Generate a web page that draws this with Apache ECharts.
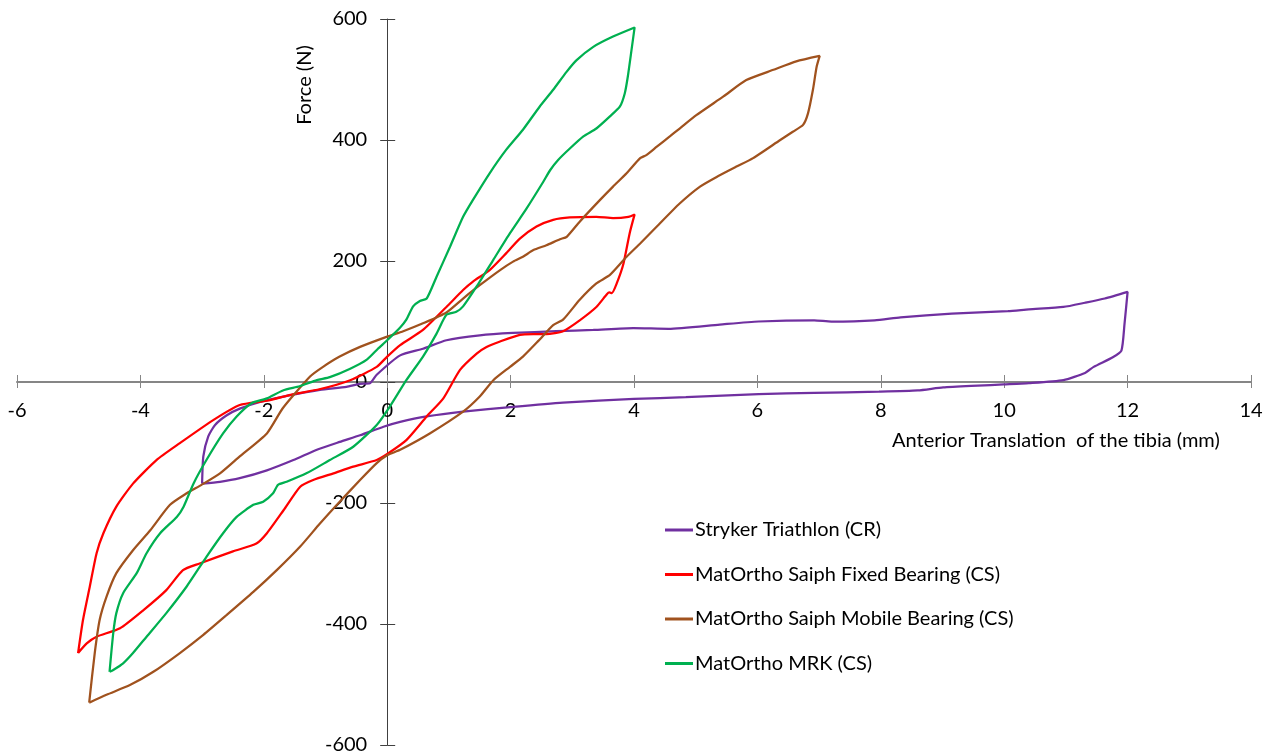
<!DOCTYPE html>
<html lang="en" style="height: 100%">
  <head>
    <meta charset="utf-8" />
  </head>
  <body style="margin: 0; height: 100%">
    <div id="container" style="width: 1274px; height: 756px"></div>
    <script type="text/javascript" src="https://cdn.jsdelivr.net/npm/echarts@6/dist/echarts.min.js"></script>
    <script type="text/javascript">
      // digitised loops, each in path order: min corner -> upper branch -> peak -> lower branch -> back
      var strykerCR = [
        [-3.0, -168], [-2.98, -123], [-2.9, -90], [-2.79, -71], [-2.6, -55], [-2.39, -44], [-2.06, -33],
        [-1.63, -23], [-1.09, -13], [-0.66, -8], [-0.45, -3], [-0.28, -2], [-0.17, 12], [0.21, 44],
        [0.58, 55], [0.96, 69], [1.5, 77], [2.04, 81], [2.74, 84], [3.34, 86], [3.99, 89], [4.56, 88],
        [5.39, 95], [6.02, 100], [6.92, 102], [7.2, 100], [7.9, 102], [8.32, 107], [9.15, 113],
        [10.06, 117], [10.4, 120], [10.96, 124], [11.31, 131], [11.63, 138], [12.0, 149],
        [11.95, 96], [11.9, 52], [11.76, 41], [11.45, 25], [11.31, 15], [10.96, 3], [10.4, -2],
        [9.99, -4], [9.57, -6], [9.01, -9], [8.6, -14], [7.97, -16], [6.92, -18], [6.02, -20],
        [4.84, -25], [4.0, -28], [2.85, -34], [2.04, -41], [1.23, -49], [0.64, -57], [0.21, -66],
        [-0.06, -74], [-0.44, -88], [-0.77, -99], [-1.14, -112], [-1.52, -129], [-1.95, -146],
        [-2.39, -159], [-2.71, -165], [-3.0, -168]
      ];

      var fixedBearing = [
        [-5.01, -448], [-4.93, -393], [-4.82, -338], [-4.71, -283], [-4.6, -250], [-4.39, -206],
        [-4.12, -168], [-3.74, -129], [-3.36, -101], [-2.82, -63], [-2.39, -38], [-1.95, -31],
        [-1.52, -20], [-1.1, -12], [-0.6, 3], [-0.17, 25], [0.0, 42], [0.21, 61], [0.58, 86],
        [0.96, 124], [1.23, 152], [1.39, 166], [1.66, 185], [1.93, 213], [2.15, 237], [2.42, 257],
        [2.69, 268], [2.96, 272], [3.39, 273], [3.66, 271], [3.91, 273], [4.01, 277],
        [3.93, 246], [3.83, 196], [3.72, 163], [3.64, 147], [3.6, 148], [3.56, 145], [3.39, 124],
        [3.12, 102], [2.85, 84], [2.58, 79], [2.37, 79], [2.15, 78], [1.83, 67], [1.61, 58],
        [1.45, 47], [1.18, 20], [0.91, -27], [0.64, -57], [0.31, -96], [0.0, -119], [-0.17, -129],
        [-0.55, -140], [-0.87, -151], [-1.2, -162], [-1.41, -173], [-1.68, -212], [-1.95, -250],
        [-2.12, -267], [-2.5, -280], [-3.04, -300], [-3.31, -311], [-3.58, -344], [-3.95, -377],
        [-4.33, -407], [-4.71, -421], [-4.87, -432], [-5.01, -448]
      ];

      var mobileBearing = [
        [-4.83, -530], [-4.74, -448], [-4.66, -393], [-4.55, -355], [-4.39, -316], [-4.12, -278],
        [-3.84, -245], [-3.52, -203], [-3.25, -184], [-3.01, -170], [-2.71, -151], [-2.39, -123],
        [-1.95, -85], [-1.69, -43], [-1.25, 9], [-1.04, 25], [-0.77, 42], [-0.44, 58], [0.0, 75],
        [0.26, 84], [0.58, 97], [0.96, 115], [1.23, 138], [1.5, 160], [1.83, 185], [2.04, 199],
        [2.2, 207], [2.37, 218], [2.58, 226], [2.8, 236], [2.91, 240], [3.12, 265], [3.45, 301],
        [3.66, 323], [3.88, 345], [4.1, 370], [4.2, 375], [4.37, 389], [4.58, 406], [4.74, 419],
        [5.01, 441], [5.45, 472], [5.82, 499], [6.26, 516], [6.63, 530], [7.01, 539],
        [6.96, 521], [6.9, 483], [6.82, 444], [6.74, 425], [6.58, 414], [6.37, 400], [5.93, 370],
        [5.66, 356], [5.34, 339], [5.07, 323], [4.74, 295], [4.37, 257], [4.1, 229], [3.88, 207],
        [3.61, 177], [3.39, 163], [3.12, 136], [2.85, 103], [2.69, 94], [2.45, 68], [2.2, 42],
        [1.99, 25], [1.72, 3], [1.5, -24], [1.23, -49], [0.69, -85], [0.21, -112], [0.0, -121],
        [-0.17, -134], [-0.44, -162], [-0.77, -198], [-1.09, -234], [-1.41, -272], [-1.79, -311],
        [-2.17, -347], [-2.6, -385], [-2.98, -418], [-3.36, -448], [-3.79, -479], [-4.17, -501],
        [-4.55, -517], [-4.83, -530]
      ];

      var mrk = [
        [-4.5, -479], [-4.44, -415], [-4.39, -382], [-4.28, -349], [-4.06, -316], [-3.9, -283],
        [-3.68, -250], [-3.41, -223], [-3.3, -206], [-3.14, -168], [-2.93, -129], [-2.66, -85],
        [-2.44, -57], [-2.2, -35], [-1.95, -27], [-1.69, -14], [-1.42, -7], [-1.14, 3], [-0.93, 8],
        [-0.6, 22], [-0.33, 37], [-0.15, 55], [0.0, 69], [0.21, 90], [0.31, 103], [0.42, 125],
        [0.53, 134], [0.64, 138], [0.8, 174], [1.02, 224], [1.23, 273], [1.39, 301], [1.66, 345],
        [1.93, 384], [2.2, 417], [2.47, 455], [2.69, 483], [2.91, 513], [3.07, 532], [3.34, 554],
        [3.66, 571], [4.01, 586],
        [3.96, 549], [3.9, 505], [3.85, 477], [3.77, 455], [3.61, 439], [3.39, 419], [3.18, 406],
        [2.96, 386], [2.77, 367], [2.64, 350], [2.53, 331], [2.26, 287], [1.99, 246], [1.72, 202],
        [1.45, 158], [1.23, 125], [1.12, 116], [0.96, 111], [0.8, 80], [0.58, 42], [0.31, 3],
        [0.04, -41], [-0.17, -71], [-0.55, -107], [-0.93, -129], [-1.31, -151], [-1.63, -165],
        [-1.77, -170], [-1.85, -184], [-2.01, -198], [-2.17, -203], [-2.44, -223], [-2.66, -250],
        [-2.93, -289], [-3.25, -338], [-3.58, -382], [-3.9, -421], [-4.12, -448], [-4.28, -465],
        [-4.44, -476], [-4.5, -479]
      ];

      var seriesNames = [
        "Stryker Triathlon (CR)",
        "MatOrtho Saiph Fixed Bearing (CS)",
        "MatOrtho Saiph Mobile Bearing (CS)",
        "MatOrtho MRK (CS)"
      ];
      var seriesData = [strykerCR, fixedBearing, mobileBearing, mrk];
      var seriesColors = ["#7030A0", "#FF0000", "#A0521E", "#00B050"];

      var font = "Lato, 'Open Sans', sans-serif";

      // plot area: x -6..14 over 1234px, y -600..600 over 726px
      var gridLeft = 17, gridTop = 19, gridW = 1234, gridH = 726;
      // axes cross at (0, 0): shift them in from the grid edges
      var yAxisShift = -(gridW * 6 / 20);
      var xAxisShift = -(gridH * 600 / 1200);

      var dom = document.getElementById("container");
      var myChart = echarts.init(dom, null, { renderer: "canvas" });

      function xAxisBase(extra) {
        return Object.assign({
          type: "value",
          min: -6,
          max: 14,
          interval: 2,
          position: "bottom",
          offset: xAxisShift,
          splitLine: { show: false }
        }, extra);
      }
      function yAxisBase(extra) {
        return Object.assign({
          type: "value",
          min: -600,
          max: 600,
          interval: 200,
          position: "left",
          offset: yAxisShift,
          splitLine: { show: false }
        }, extra);
      }

      var option = {
        animation: false,
        textStyle: { fontFamily: font },
        grid: { left: gridLeft, top: gridTop, width: gridW, height: gridH, outerBoundsMode: "none" },
        legend: {
          orient: "vertical",
          left: 665,
          top: 519,
          padding: 0,
          itemWidth: 28,
          itemHeight: 3,
          itemGap: 22.5,
          icon: "rect",
          textStyle: { fontSize: 20, color: "#000", padding: [0, 0, 0, -3], lineHeight: 22 },
          data: seriesNames
        },
        xAxis: [
          xAxisBase({
            axisLine: { onZero: false, lineStyle: { color: "#868686", width: 2 } },
            axisTick: { length: 6, lineStyle: { color: "#868686" } },
            axisLabel: { fontSize: 20, color: "#000", margin: 19 }
          }),
          xAxisBase({
            axisLine: { show: false, onZero: false },
            axisTick: { inside: true, length: 7, lineStyle: { color: "#868686" } },
            axisLabel: { show: false }
          })
        ],
        yAxis: [
          yAxisBase({
            axisLine: { onZero: false, lineStyle: { color: "#404040", width: 1 } },
            axisTick: { length: 7, lineStyle: { color: "#404040" } },
            axisLabel: { fontSize: 20, color: "#000", margin: 20 }
          }),
          yAxisBase({
            axisLine: { show: false, onZero: false },
            axisTick: { inside: true, length: 8, lineStyle: { color: "#404040" } },
            axisLabel: { show: false }
          })
        ],
        graphic: [
          {
            type: "text",
            x: 305,
            y: 85,
            rotation: Math.PI / 2,
            style: {
              text: "Force (N)",
              font: "20px " + font,
              fill: "#000",
              align: "center",
              verticalAlign: "middle"
            }
          },
          {
            type: "text",
            x: 892,
            y: 441,
            style: {
              text: "Anterior Translation  of the tibia (mm)",
              font: "20px " + font,
              fill: "#000",
              align: "left",
              verticalAlign: "middle"
            }
          }
        ],
        series: seriesData.map(function (d, i) {
          return {
            name: seriesNames[i],
            type: "line",
            data: d,
            symbol: "none",
            smooth: 0.2,
            color: seriesColors[i],
            lineStyle: { width: 2.25, color: seriesColors[i] }
          };
        })
      };

      myChart.setOption(option);
      window.addEventListener("resize", myChart.resize);
    </script>
  </body>
</html>
